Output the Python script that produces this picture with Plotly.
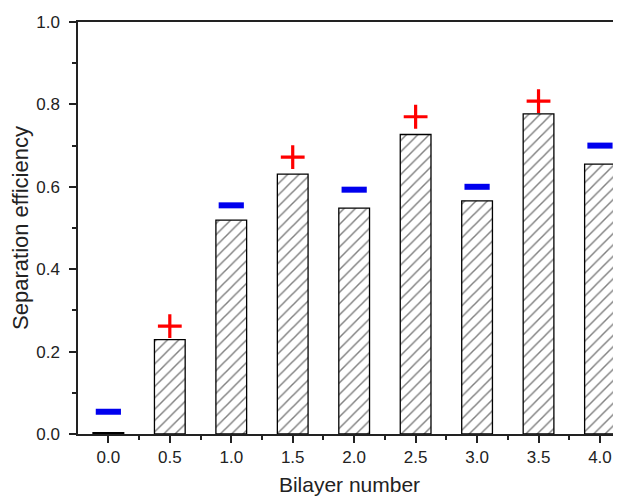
import plotly.graph_objects as go

bilayers = [0.0, 0.5, 1.0, 1.5, 2.0, 2.5, 3.0, 3.5, 4.0]
efficiency = [0.003, 0.229, 0.519, 0.631, 0.548, 0.727, 0.566, 0.777, 0.655]
plus_x = [0.5, 1.5, 2.5, 3.5]
plus_y = [0.262, 0.672, 0.770, 0.808]
minus_x = [0.0, 1.0, 2.0, 3.0, 4.0]
minus_y = [0.054, 0.555, 0.593, 0.600, 0.700]
x_ticks = [0.0, 0.5, 1.0, 1.5, 2.0, 2.5, 3.0, 3.5, 4.0]
y_ticks = [0.0, 0.2, 0.4, 0.6, 0.8, 1.0]

fig = go.Figure()
fig.add_trace(go.Bar(
    x=bilayers, y=efficiency, width=0.25,
    marker=dict(color="white", line=dict(color="black", width=1.3),
                pattern=dict(shape="/", fgcolor="black", bgcolor="white", size=8, solidity=0.18)),
    showlegend=False,
))
fig.add_trace(go.Scatter(
    x=plus_x, y=plus_y, mode="markers", showlegend=False,
    marker=dict(symbol="cross-thin", size=17, line=dict(color="#ff0000", width=3.2)),
))
fig.add_trace(go.Scatter(
    x=minus_x, y=minus_y, mode="markers", showlegend=False,
    marker=dict(symbol="line-ew", size=18, line=dict(color="#0000ee", width=6)),
))

fam = "Liberation Sans, Arial, sans-serif"
tick_font = dict(family=fam, size=17, color="#222222")
fig.update_layout(
    width=613, height=490,
    margin=dict(l=70, r=0, t=14, b=64),
    plot_bgcolor="white", paper_bgcolor="white",
    font=tick_font,
    xaxis=dict(
        range=[-0.247, 4.171], tickvals=x_ticks, ticktext=[f"{v:.1f}" for v in x_ticks],
        tickfont=tick_font, ticklabelstandoff=0,
        ticks="outside", ticklen=7, tickwidth=1.5, tickcolor="#222",
        showline=True, linecolor="#222", linewidth=1.5, mirror=True,
        showgrid=False, zeroline=False,
        minor=dict(ticks="outside", ticklen=4, tickwidth=1.5, tickcolor="#222", dtick=0.25, tick0=0.25),
        title=dict(text="Bilayer number", font=dict(family=fam, size=21, color="#222222"), standoff=11),
    ),
    yaxis=dict(
        range=[0, 1.0], tickvals=y_ticks, ticktext=[f"{v:.1f}" for v in y_ticks],
        tickfont=tick_font, ticklabelstandoff=6,
        ticks="outside", ticklen=7, tickwidth=1.5, tickcolor="#222",
        showline=True, linecolor="#222", linewidth=1.5,
        showgrid=False, zeroline=False,
        minor=dict(ticks="outside", ticklen=4, tickwidth=1.5, tickcolor="#222", dtick=0.1, tick0=0.1),
        title=dict(text="Separation efficiency", font=dict(family=fam, size=22, color="#222222"), standoff=8),
    ),
)
fig.write_html("out.html")
